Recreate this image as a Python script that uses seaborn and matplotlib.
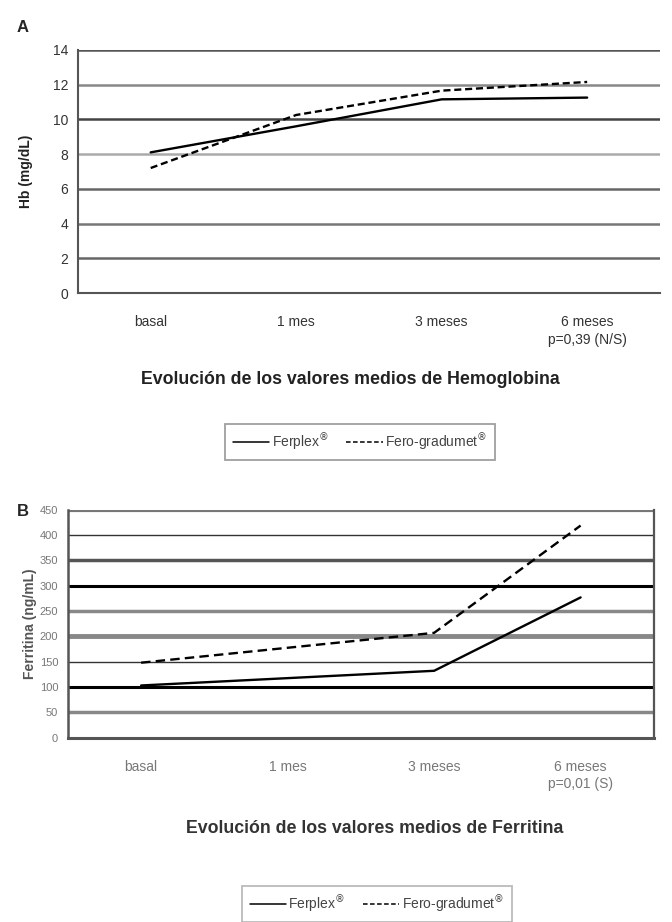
import numpy as np
import pandas as pd
import matplotlib
matplotlib.use("Agg")
import matplotlib.pyplot as plt
import seaborn as sns

# ---- data ----
categories = ["basal", "1 mes", "3 meses", "6 meses"]
series_names = ["Ferplex$^{®}$", "Fero-gradumet$^{®}$"]

hb_ferplex = [8.1, 9.6, 11.15, 11.25]
hb_fero = [7.2, 10.25, 11.65, 12.15]
hb_ticks = [0, 2, 4, 6, 8, 10, 12, 14]

fer_ferplex = [103, np.nan, 132, 277]
fer_fero = [148, np.nan, 207, 419]
fer_ticks = [0, 50, 100, 150, 200, 250, 300, 350, 400, 450]

xlabels_a = ["basal", "1 mes", "3 meses", "6 meses\np=0,39 (N/S)"]
xlabels_b = ["basal", "1 mes", "3 meses", "6 meses\np=0,01 (S)"]

title_a = "Evolución de los valores medios de Hemoglobina"
title_b = "Evolución de los valores medios de Ferritina"
ylabel_a = "Hb (mg/dL)"
ylabel_b = "Ferritina (ng/mL)"


def long_frame(v1, v2):
    rows = []
    for name, vals in zip(series_names, [v1, v2]):
        for i, v in enumerate(vals):
            rows.append({"x": i, "valor": v, "grupo": name})
    return pd.DataFrame(rows).dropna()


sns.set_theme(style="white")
plt.rcParams["font.family"] = ["Liberation Sans", "DejaVu Sans"]

fig = plt.figure(figsize=(6.72, 9.22), dpi=100)
axA = fig.add_axes([0.116, 0.682, 0.866, 0.264])
axB = fig.add_axes([0.101, 0.200, 0.872, 0.247])

palette = {series_names[0]: "black", series_names[1]: "black"}

for ax, v1, v2, ticks, xl, yl, dash in [
    (axA, hb_ferplex, hb_fero, hb_ticks, xlabels_a, ylabel_a, (3, 1.6)),
    (axB, fer_ferplex, fer_fero, fer_ticks, xlabels_b, ylabel_b, (4, 2.2)),
]:
    df = long_frame(v1, v2)
    sns.lineplot(data=df, x="x", y="valor", hue="grupo", style="grupo",
                 palette=palette, dashes={series_names[0]: "", series_names[1]: dash},
                 linewidth=1.7, ax=ax, legend=False, zorder=5)
    ax.set_xlim(-0.5, len(categories) - 0.5)
    ax.set_ylim(ticks[0], ticks[-1])
    ax.set_yticks(ticks)
    ax.set_yticklabels([str(t) for t in ticks], fontsize=10, color="#333333")
    ax.set_xticks(range(len(categories)))
    ax.set_xticklabels(xl, fontsize=10, color="#333333", ha="center", linespacing=1.3)
    ax.set_xticks(np.arange(-0.5, len(categories), 1.0), minor=True)
    ax.tick_params(axis="x", which="major", length=0, pad=16)
    ax.tick_params(axis="x", which="minor", length=4, width=1.2, color="#555555", direction="out")
    ax.tick_params(axis="y", length=4, width=1.2, color="#555555", direction="out", pad=3)
    ax.set_xlabel("")
    ax.set_ylabel(yl, fontsize=10, fontweight="bold", color="#222222", labelpad=14)
    for s in ["top", "right"]:
        ax.spines[s].set_visible(False)
    ax.spines["left"].set_color("#555555")
    ax.spines["bottom"].set_color("#555555")
    ax.spines["left"].set_linewidth(1.5)
    ax.spines["bottom"].set_linewidth(1.5)
    ax.grid(axis="y", visible=True)
    ax.grid(axis="x", visible=False)
    ax.set_axisbelow(True)

# grid shading for panel A
shadesA = ["#555555", "#666666", "#777777", "#666666", "#aaaaaa", "#444444", "#888888", "#555555"]
for gl, c in zip(axA.get_ygridlines(), shadesA):
    gl.set_color(c)
    gl.set_linewidth(1.8)

# grid shading for panel B
shadesB = ["#555555", "#888888", "#000000", "#333333", "#888888", "#888888", "#000000", "#555555", "#333333", "#777777"]
widthsB = [1.4, 2.5, 2.2, 1.0, 3.5, 2.5, 2.2, 2.5, 1.0, 3.0]
for gl, c, w in zip(axB.get_ygridlines(), shadesB, widthsB):
    gl.set_color(c)
    gl.set_linewidth(w)
axB.spines["right"].set_visible(True)
axB.spines["right"].set_color("#555555")
axB.spines["right"].set_linewidth(1.6)
axB.spines["left"].set_linewidth(1.8)
axB.spines["bottom"].set_linewidth(2.2)
axB.set_yticklabels([str(t) for t in fer_ticks], fontsize=8, color="#777777")
axB.set_xticklabels(xlabels_b, fontsize=10, color="#777777", linespacing=1.3)
axB.yaxis.label.set_color("#555555")
axB.yaxis.labelpad = 2

# titles under the plots
fig.text(0.522, 1 - 380 / 922, title_a, ha="center", va="center", fontsize=12.8, fontweight="bold", color="#222222")
fig.text(0.558, 1 - 828 / 922, title_b, ha="center", va="center", fontsize=12.8, fontweight="bold", color="#333333")

# panel letters
fig.text(0.025, 1 - 27 / 922, "A", fontsize=12, fontweight="bold", va="center")
fig.text(0.025, 1 - 512 / 922, "B", fontsize=12, fontweight="bold", va="center")

# legends
handles = axA.get_lines()[:2]
for (xc, yc), edge in [((0.536, 442 / 922), "#888888"), ((0.561, 904 / 922), "#aaaaaa")]:
    leg = fig.legend(handles, series_names, loc="center", ncol=2,
                     bbox_to_anchor=(xc, 1 - yc), frameon=True,
                     fontsize=10, handlelength=2.6, columnspacing=1.3,
                     handletextpad=0.2, borderpad=0.55, fancybox=False)
    leg.get_frame().set_edgecolor(edge)
    leg.get_frame().set_linewidth(1.3)
    for t in leg.get_texts():
        t.set_color("#444444")
    for l in leg.get_lines():
        l.set_linewidth(1.1)

fig.savefig("out.png", dpi=100)
